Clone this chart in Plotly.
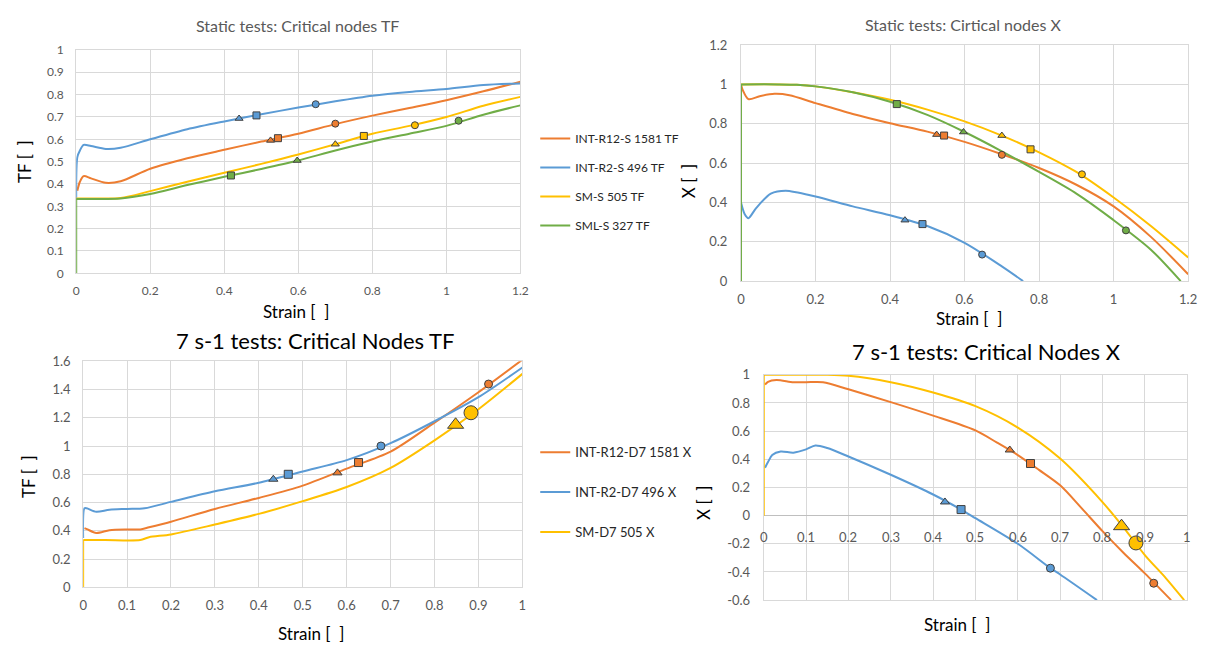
import plotly.graph_objects as go

W, H = 1212, 653

ORANGE = "#ED7D31"
BLUE = "#5B9BD5"
YELLOW = "#FFC000"
GREEN = "#70AD47"

# ---------------- Panel 1: Static tests, critical nodes TF ----------------
p1_names = ["INT-R12-S 1581 TF", "INT-R2-S 496 TF", "SM-S 505 TF", "SML-S 327 TF"]
p1_r12_strain = [0.003, 0.01, 0.02, 0.04, 0.08, 0.12, 0.2, 0.3, 0.4, 0.5, 0.6, 0.7, 0.8, 0.9, 1.0, 1.1, 1.2]
p1_r12_tf = [0.37, 0.41, 0.435, 0.425, 0.405, 0.412, 0.468, 0.515, 0.553, 0.59, 0.625, 0.668, 0.706, 0.74, 0.775, 0.815, 0.858]
p1_r2_strain = [0.0, 0.003, 0.01, 0.02, 0.04, 0.08, 0.12, 0.2, 0.3, 0.4, 0.5, 0.6, 0.7, 0.8, 0.9, 1.0, 1.1, 1.2]
p1_r2_tf = [0.33, 0.52, 0.55, 0.575, 0.57, 0.557, 0.562, 0.6, 0.645, 0.68, 0.712, 0.742, 0.77, 0.795, 0.812, 0.825, 0.843, 0.85]
p1_sm_strain = [0.0, 0.05, 0.12, 0.2, 0.3, 0.4, 0.5, 0.6, 0.7, 0.8, 0.9, 1.0, 1.1, 1.2]
p1_sm_tf = [0.335, 0.335, 0.337, 0.368, 0.41, 0.45, 0.49, 0.532, 0.578, 0.625, 0.66, 0.70, 0.75, 0.79]
p1_sml_strain = [0.0, 0.0, 0.05, 0.12, 0.2, 0.3, 0.4, 0.5, 0.6, 0.7, 0.8, 0.9, 1.0, 1.1, 1.2]
p1_sml_tf = [0.0, 0.333, 0.333, 0.335, 0.355, 0.395, 0.432, 0.467, 0.505, 0.55, 0.59, 0.625, 0.66, 0.71, 0.752]
# critical-node markers
p1_r12_mk_strain = [0.525, 0.545, 0.70]
p1_r12_mk_tf = [0.595, 0.605, 0.67]
p1_r2_mk_strain = [0.44, 0.487, 0.647]
p1_r2_mk_tf = [0.693, 0.707, 0.757]
p1_sm_mk_strain = [0.70, 0.777, 0.915]
p1_sm_mk_tf = [0.578, 0.615, 0.663]
p1_sml_mk_strain = [0.418, 0.597, 1.033]
p1_sml_mk_tf = [0.438, 0.505, 0.683]

# ---------------- Panel 2: Static tests, critical nodes X ----------------
p2_r12_strain = [0.0, 0.005, 0.02, 0.05, 0.09, 0.13, 0.2, 0.3, 0.4, 0.5, 0.6, 0.7, 0.8, 0.9, 1.0, 1.1, 1.2]
p2_r12_x = [1.0, 0.97, 0.925, 0.94, 0.952, 0.945, 0.905, 0.85, 0.803, 0.76, 0.708, 0.645, 0.575, 0.49, 0.38, 0.225, 0.035]
p2_r2_strain = [0.0, 0.01, 0.02, 0.04, 0.08, 0.12, 0.2, 0.3, 0.4, 0.5, 0.6, 0.7, 0.757]
p2_r2_x = [0.40, 0.34, 0.32, 0.37, 0.445, 0.46, 0.43, 0.38, 0.335, 0.28, 0.195, 0.075, 0.0]
p2_sm_strain = [0.0, 0.1, 0.15, 0.2, 0.3, 0.4, 0.5, 0.6, 0.7, 0.8, 0.9, 1.0, 1.1, 1.2]
p2_sm_x = [1.0, 1.0, 0.998, 0.99, 0.96, 0.922, 0.872, 0.812, 0.74, 0.655, 0.555, 0.425, 0.28, 0.12]
p2_sml_strain = [0.0, 0.0, 0.1, 0.15, 0.2, 0.3, 0.4, 0.5, 0.6, 0.7, 0.8, 0.9, 1.0, 1.1, 1.18]
p2_sml_x = [0.0, 1.0, 1.0, 0.998, 0.99, 0.96, 0.912, 0.845, 0.758, 0.66, 0.555, 0.445, 0.31, 0.16, 0.0]
p2_r12_mk_strain = [0.525, 0.545, 0.70]
p2_r12_mk_x = [0.745, 0.74, 0.642]
p2_r2_mk_strain = [0.44, 0.487, 0.647]
p2_r2_mk_x = [0.31, 0.29, 0.135]
p2_sm_mk_strain = [0.70, 0.777, 0.915]
p2_sm_mk_x = [0.74, 0.67, 0.543]
p2_sml_mk_strain = [0.418, 0.597, 1.033]
p2_sml_mk_x = [0.90, 0.758, 0.258]

# ---------------- Panel 3: 7 s-1 tests, critical nodes TF ----------------
p3_names = ["INT-R12-D7 1581 X", "INT-R2-D7 496 X", "SM-D7 505 X"]
p3_r12_strain = [0.003, 0.01, 0.03, 0.06, 0.1, 0.13, 0.15, 0.2, 0.3, 0.4, 0.5, 0.6, 0.7, 0.8, 0.9, 1.0]
p3_r12_tf = [0.42, 0.41, 0.385, 0.405, 0.41, 0.41, 0.425, 0.465, 0.555, 0.633, 0.72, 0.84, 0.96, 1.165, 1.38, 1.61]
p3_r2_strain = [0.0, 0.003, 0.008, 0.03, 0.06, 0.1, 0.14, 0.2, 0.3, 0.4, 0.5, 0.6, 0.7, 0.8, 0.9, 1.0]
p3_r2_tf = [0.35, 0.56, 0.56, 0.535, 0.55, 0.555, 0.56, 0.605, 0.68, 0.74, 0.82, 0.9, 1.02, 1.175, 1.345, 1.555]
p3_sm_strain = [0.0, 0.0, 0.05, 0.13, 0.15, 0.2, 0.3, 0.4, 0.5, 0.6, 0.7, 0.8, 0.9, 1.0]
p3_sm_tf = [0.0, 0.335, 0.335, 0.335, 0.355, 0.375, 0.445, 0.52, 0.61, 0.71, 0.845, 1.04, 1.26, 1.51]
p3_r12_mk_strain = [0.579, 0.627, 0.923]
p3_r12_mk_tf = [0.81, 0.883, 1.438]
p3_r2_mk_strain = [0.433, 0.467, 0.678]
p3_r2_mk_tf = [0.765, 0.80, 1.0]
p3_sm_mk_strain = [0.848, 0.883]
p3_sm_mk_tf = [1.15, 1.235]

# ---------------- Panel 4: 7 s-1 tests, critical nodes X ----------------
p4_r12_strain = [0.003, 0.01, 0.03, 0.07, 0.1, 0.14, 0.2, 0.3, 0.4, 0.5, 0.55, 0.6, 0.65, 0.7, 0.75, 0.8, 0.85, 0.9, 0.962]
p4_r12_x = [0.93, 0.95, 0.963, 0.947, 0.947, 0.947, 0.897, 0.806, 0.71, 0.605, 0.52, 0.43, 0.325, 0.215, 0.055, -0.11, -0.265, -0.41, -0.6]
p4_r2_strain = [0.003, 0.01, 0.02, 0.04, 0.07, 0.1, 0.122, 0.15, 0.2, 0.3, 0.4, 0.466, 0.5, 0.6, 0.677, 0.7, 0.787]
p4_r2_x = [0.34, 0.38, 0.43, 0.455, 0.447, 0.47, 0.498, 0.48, 0.42, 0.29, 0.15, 0.043, -0.018, -0.2, -0.373, -0.418, -0.6]
p4_sm_strain = [0.0, 0.0, 0.1, 0.15, 0.2, 0.3, 0.4, 0.5, 0.6, 0.7, 0.8, 0.85, 0.9, 0.95, 0.993]
p4_sm_x = [0.0, 1.0, 1.0, 1.0, 0.993, 0.947, 0.874, 0.777, 0.625, 0.405, 0.096, -0.085, -0.28, -0.445, -0.6]
p4_r12_mk_strain = [0.581, 0.63, 0.921]
p4_r12_mk_x = [0.466, 0.37, -0.48]
p4_r2_mk_strain = [0.428, 0.466, 0.677]
p4_r2_mk_x = [0.097, 0.043, -0.373]
p4_sm_mk_strain = [0.845, 0.879]
p4_sm_mk_x = [-0.075, -0.194]
p4_xtick_vals = [0.0, 0.1, 0.2, 0.3, 0.4, 0.5, 0.6, 0.7, 0.8, 0.9, 1.0]
p4_xtick_text = ["0", "0.1", "0.2", "0.3", "0.4", "0.5", "0.6", "0.7", "0.8", "0.9", "1"]
p4_ytick_vals = [1.0, 0.8, 0.6, 0.4, 0.2, 0.0, -0.2, -0.4, -0.6]
p4_ytick_text = ["1", "0.8", "0.6", "0.4", "0.2", "0", "-0.2", "-0.4", "-0.6"]

TRI, SQ, CIR = "triangle-up", "square", "circle"


# ---------------- layout geometry (reference-image pixels) ----------------
def fx(p):
    return p / W


def fy(p):
    return 1 - p / H


FONT = "Lato, Carlito, sans-serif"
GRID = "#D9D9D9"
TICK = "#595959"

fig = go.Figure()


def add_lines(xs, ys, color, xa, ya, name=None, legend=None):
    # split a leading vertical rise at strain 0 into a straight segment
    n0 = 1
    while n0 < len(xs) and xs[n0] == xs[0]:
        n0 += 1
    if n0 > 1:
        fig.add_trace(go.Scatter(x=xs[:n0], y=ys[:n0], mode="lines",
                                 line=dict(color=color, width=2),
                                 xaxis=xa, yaxis=ya, showlegend=False,
                                 hoverinfo="skip"))
    fig.add_trace(go.Scatter(x=xs[n0 - 1:], y=ys[n0 - 1:], mode="lines",
                             line=dict(color=color, width=2, shape="spline", smoothing=0.8),
                             xaxis=xa, yaxis=ya, name=name,
                             showlegend=name is not None,
                             legend=legend if legend else "legend",
                             legendgroup=name))


def add_marks(xs, ys, symbols, color, size, xa, ya):
    fig.add_trace(go.Scatter(x=xs, y=ys, mode="markers",
                             marker=dict(symbol=symbols, color=color, size=size,
                                         line=dict(color="#404040", width=1)),
                             xaxis=xa, yaxis=ya, showlegend=False))


# Panel 1
add_lines(p1_r12_strain, p1_r12_tf, ORANGE, "x", "y", p1_names[0], "legend")
add_lines(p1_r2_strain, p1_r2_tf, BLUE, "x", "y", p1_names[1], "legend")
add_lines(p1_sm_strain, p1_sm_tf, YELLOW, "x", "y", p1_names[2], "legend")
add_lines(p1_sml_strain, p1_sml_tf, GREEN, "x", "y", p1_names[3], "legend")
add_marks(p1_r12_mk_strain, p1_r12_mk_tf, [TRI, SQ, CIR], ORANGE, 7, "x", "y")
add_marks(p1_r2_mk_strain, p1_r2_mk_tf, [TRI, SQ, CIR], BLUE, 7, "x", "y")
add_marks(p1_sm_mk_strain, p1_sm_mk_tf, [TRI, SQ, CIR], YELLOW, 7, "x", "y")
add_marks(p1_sml_mk_strain, p1_sml_mk_tf, [SQ, TRI, CIR], GREEN, 7, "x", "y")

# Panel 2
add_lines(p2_r12_strain, p2_r12_x, ORANGE, "x2", "y2")
add_lines(p2_r2_strain, p2_r2_x, BLUE, "x2", "y2")
add_lines(p2_sm_strain, p2_sm_x, YELLOW, "x2", "y2")
add_lines(p2_sml_strain, p2_sml_x, GREEN, "x2", "y2")
add_marks(p2_r12_mk_strain, p2_r12_mk_x, [TRI, SQ, CIR], ORANGE, 7, "x2", "y2")
add_marks(p2_r2_mk_strain, p2_r2_mk_x, [TRI, SQ, CIR], BLUE, 7, "x2", "y2")
add_marks(p2_sm_mk_strain, p2_sm_mk_x, [TRI, SQ, CIR], YELLOW, 7, "x2", "y2")
add_marks(p2_sml_mk_strain, p2_sml_mk_x, [SQ, TRI, CIR], GREEN, 7, "x2", "y2")

# Panel 3
add_lines(p3_r12_strain, p3_r12_tf, ORANGE, "x3", "y3", p3_names[0], "legend2")
add_lines(p3_r2_strain, p3_r2_tf, BLUE, "x3", "y3", p3_names[1], "legend2")
add_lines(p3_sm_strain, p3_sm_tf, YELLOW, "x3", "y3", p3_names[2], "legend2")
add_marks(p3_r12_mk_strain, p3_r12_mk_tf, [TRI, SQ, CIR], ORANGE, 8, "x3", "y3")
add_marks(p3_r2_mk_strain, p3_r2_mk_tf, [TRI, SQ, CIR], BLUE, 8, "x3", "y3")
add_marks(p3_sm_mk_strain, p3_sm_mk_tf, [TRI, CIR], YELLOW, 14, "x3", "y3")

# Panel 4
add_lines(p4_r12_strain, p4_r12_x, ORANGE, "x4", "y4")
add_lines(p4_r2_strain, p4_r2_x, BLUE, "x4", "y4")
add_lines(p4_sm_strain, p4_sm_x, YELLOW, "x4", "y4")
add_marks(p4_r12_mk_strain, p4_r12_mk_x, [TRI, SQ, CIR], ORANGE, 8, "x4", "y4")
add_marks(p4_r2_mk_strain, p4_r2_mk_x, [TRI, SQ, CIR], BLUE, 8, "x4", "y4")
add_marks(p4_sm_mk_strain, p4_sm_mk_x, [TRI, CIR], YELLOW, 14, "x4", "y4")

# panel pixel boxes (left, right, top, bottom)
P1 = (73, 522, 43, 272)
P2 = (745, 1197, 38, 280)
P3 = (80, 524, 362, 594)
P4 = (768, 1196, 376, 607)

y4_range = [-0.6, 1.0]


def ax(domain, rng, dtick, size, **kw):
    d = dict(domain=domain, range=rng, dtick=dtick, tick0=0, showgrid=True,
             gridcolor=GRID, gridwidth=1, zeroline=False,
             showline=True, linecolor=GRID, linewidth=1, mirror=True,
             ticks="", tickfont=dict(family=FONT, size=size, color=TICK),
             ticklabelstandoff=6, fixedrange=True)
    d.update(kw)
    return d


fig.update_layout(
    width=W, height=H, margin=dict(l=0, r=0, t=0, b=0),
    paper_bgcolor="white", plot_bgcolor="white",
    xaxis=ax([fx(P1[0]), fx(P1[1])], [0, 1.2], 0.2, 12, anchor="y"),
    yaxis=ax([fy(P1[3]), fy(P1[2])], [0, 1.0], 0.1, 12, anchor="x",
             ticklabelstandoff=9),
    xaxis2=ax([fx(P2[0]), fx(P2[1])], [0, 1.2], 0.2, 13, anchor="y2"),
    yaxis2=ax([fy(P2[3]), fy(P2[2])], [0, 1.2], 0.2, 13, anchor="x2",
              ticklabelstandoff=10),
    xaxis3=ax([fx(P3[0]), fx(P3[1])], [0, 1.0], 0.1, 13, anchor="y3"),
    yaxis3=ax([fy(P3[3]), fy(P3[2])], [0, 1.6], 0.2, 13, anchor="x3",
              ticklabelstandoff=9),
    xaxis4=ax([fx(P4[0]), fx(P4[1])], [0, 1.0], 0.1, 13, anchor="y4",
              showticklabels=False),
    yaxis4=ax([fy(P4[3]), fy(P4[2])], y4_range, 0.2, 13, anchor="x4",
              tickmode="array", tickvals=p4_ytick_vals, ticktext=p4_ytick_text,
              zeroline=True, zerolinecolor="#BFBFBF", zerolinewidth=1,
              ticklabelstandoff=10),
    legend=dict(x=fx(537), y=fy(119), xanchor="left", yanchor="top",
                font=dict(family=FONT, size=12, color="#262626"),
                tracegroupgap=10, bgcolor="rgba(0,0,0,0)", itemwidth=30),
    legend2=dict(x=fx(537), y=fy(440), xanchor="left", yanchor="top",
                 font=dict(family=FONT, size=13, color="#262626"),
                 tracegroupgap=20, bgcolor="rgba(0,0,0,0)", itemwidth=30),
    showlegend=True,
)


def note(text, px, py, size, color="#262626", angle=0):
    fig.add_annotation(text=text, x=fx(px), y=fy(py), xref="paper", yref="paper",
                       showarrow=False, xanchor="center", yanchor="middle",
                       font=dict(family=FONT, size=size, color=color), textangle=angle)


# panel 4 strain tick labels sit just under the X = 0 line (Excel style)
for v, t in zip(p4_xtick_vals, p4_xtick_text):
    fig.add_annotation(text=t, x=v, y=0, xref="x4", yref="y4", showarrow=False,
                       xanchor="center", yanchor="top", yshift=-11,
                       font=dict(family=FONT, size=13, color=TICK))

# titles
note("Static tests: Critical nodes TF", 297, 18, 16, "#595959")
note("Static tests: Cirtical nodes X", 969, 17, 16, "#595959")
note("7 s-1 tests: Critical Nodes TF", 315, 341, 22, "#000000")
note("7 s-1 tests: Critical Nodes X", 993, 352, 22, "#000000")
# axis titles
note("Strain [  ]", 295, 311, 17, "#000000")
note("TF [  ]", 20, 157, 17, "#000000", -90)
note("Strain [  ]", 975, 318, 17, "#000000")
note("X [  ]", 692, 177, 17, "#000000", -90)
note("Strain [  ]", 310, 641, 17, "#000000")
note("TF [  ]", 24, 480, 17, "#000000", -90)
note("Strain [  ]", 963, 632, 17, "#000000")
note("X [  ]", 707, 507, 17, "#000000", -90)

fig.write_html(
    "out.html",
    config={"displayModeBar": False},
    post_script="document.documentElement.style.margin='0';"
                "document.body.style.margin='0';"
                "document.body.style.overflow='hidden';",
)
